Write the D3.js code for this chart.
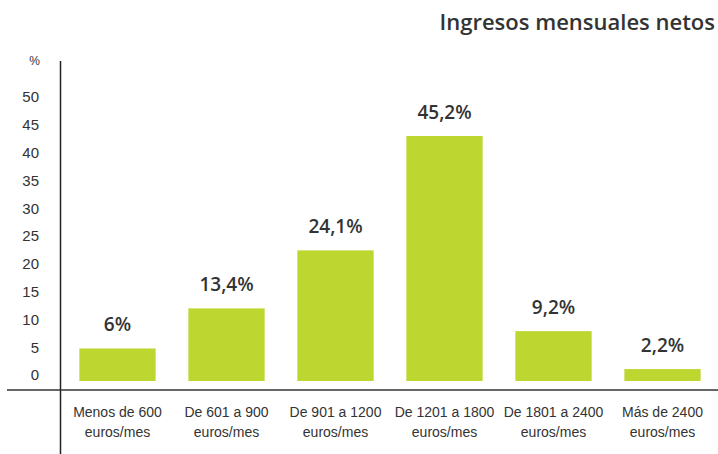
<!DOCTYPE html>
<html>
<head>
<meta charset="utf-8">
<script src="https://cdn.jsdelivr.net/npm/d3@7"></script>
<style>
  body { margin: 0; background: #fff; }
  svg text { fill: #333; }
</style>
</head>
<body>
<div id="chart"></div>
<script>
var categories = [
  ["Menos de 600", "euros/mes"],
  ["De 601 a 900", "euros/mes"],
  ["De 901 a 1200", "euros/mes"],
  ["De 1201 a 1800", "euros/mes"],
  ["De 1801 a 2400", "euros/mes"],
  ["Más de 2400", "euros/mes"]
];
var values = [6, 13.4, 24.1, 45.2, 9.2, 2.2];
var valueLabels = ["6%", "13,4%", "24,1%", "45,2%", "9,2%", "2,2%"];
var tickValues = [0, 5, 10, 15, 20, 25, 30, 35, 40, 45, 50];

var width = 718, height = 454;

var svg = d3.select("#chart").append("svg")
    .attr("width", width)
    .attr("height", height);

var x = d3.scaleBand()
    .domain(d3.range(values.length))
    .range([63, 717])
    .paddingInner(0.3)
    .paddingOuter(0.15);

// bars and tick labels don't share the same baseline in the original
var yBar = d3.scaleLinear().domain([0, 50]).range([381, 110]);
var yTick = d3.scaleLinear().domain([0, 50]).range([375, 97]);

// axis lines
svg.append("line")
    .attr("x1", 60.5).attr("x2", 60.5)
    .attr("y1", 61).attr("y2", height)
    .attr("stroke", "#222").attr("stroke-width", 1.5);

svg.append("line")
    .attr("x1", 7).attr("x2", width)
    .attr("y1", 390).attr("y2", 390)
    .attr("stroke", "#333").attr("stroke-width", 1.5);

// tick labels
svg.selectAll("text.tick").data(tickValues).enter()
    .append("text")
    .attr("class", "tick")
    .attr("x", 39)
    .attr("y", function (d) { return yTick(d); })
    .attr("dy", "0.36em")
    .attr("text-anchor", "end")
    .style("font", "15px 'Liberation Sans', Arial, sans-serif")
    .text(function (d) { return d; });

svg.append("text")
    .attr("x", 40).attr("y", 65)
    .attr("text-anchor", "end")
    .style("font", "12px 'Liberation Sans', Arial, sans-serif")
    .text("%");

// bars
svg.selectAll("rect.bar").data(values).enter()
    .append("rect")
    .attr("class", "bar")
    .attr("x", function (d, i) { return x(i); })
    .attr("width", x.bandwidth())
    .attr("y", function (d) { return yBar(d); })
    .attr("height", function (d) { return yBar(0) - yBar(d); })
    .attr("fill", "#bed630");

// value labels
svg.selectAll("text.value").data(values).enter()
    .append("text")
    .attr("class", "value")
    .attr("x", function (d, i) { return x(i) + x.bandwidth() / 2; })
    .attr("y", function (d) { return yBar(d) - 17; })
    .attr("text-anchor", "middle")
    .style("font", "600 19px 'Open Sans', sans-serif")
    .text(function (d, i) { return valueLabels[i]; });

// category labels
var cat = svg.selectAll("text.cat").data(categories).enter()
    .append("text")
    .attr("class", "cat")
    .attr("text-anchor", "middle")
    .style("font", "14px 'Liberation Sans', Arial, sans-serif");

cat.selectAll("tspan").data(function (d) { return d; }).enter()
    .append("tspan")
    .attr("x", function () {
      var i = categories.indexOf(d3.select(this.parentNode).datum());
      return x(i) + x.bandwidth() / 2;
    })
    .attr("y", function (d, j) { return 417 + j * 20; })
    .text(function (d) { return d; });

// title
svg.append("text")
    .attr("x", 715).attr("y", 30)
    .attr("text-anchor", "end")
    .style("font", "600 22px 'Open Sans', sans-serif")
    .text("Ingresos mensuales netos");
</script>
</body>
</html>
